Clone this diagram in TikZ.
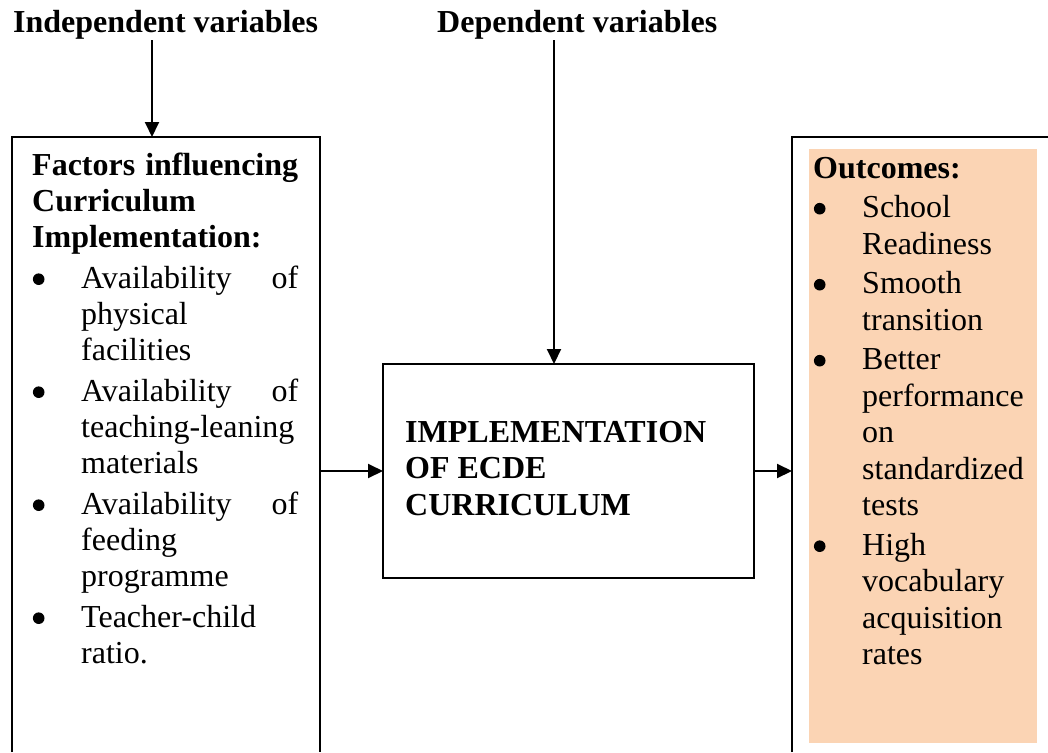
\documentclass[tikz,border=0pt]{standalone}
\usepackage{fontspec}
\setmainfont{Liberation Serif}
\usetikzlibrary{arrows.meta}
\definecolor{peach}{HTML}{FBD4B4}
\newcommand\bdot{\tikz[baseline=0pt]{\fill[black] (6pt,9pt) circle[radius=5.8pt];}}
\newcommand\bitem[1]{\par\hangindent=49pt\hangafter=1\noindent\makebox[49pt][l]{\hspace{0.7pt}\bdot}#1}
\newcommand\boxfont[1]{\fontsize{32}{#1}\selectfont\spaceskip=0.25em plus 2em minus 0.05em\tolerance=10000\hyphenpenalty=10000\exhyphenpenalty=10000\parindent=0pt}
\begin{document}
\begin{tikzpicture}[x=1pt,y=-1pt,
  shapeonly/.style={inner sep=0pt, outer sep=0pt, anchor=north west},
  arr/.style={line width=2pt, -{Triangle[length=15pt,width=14pt]}},
  head/.style={anchor=base west, inner sep=0pt, font=\fontsize{32}{36}\selectfont\bfseries},
  tbox/.style={anchor=north west, inner sep=0pt, align=justify}]
\useasboundingbox (0,0) rectangle (1048,752);
% headings
\node[head] (ind) at (13,33) {Independent variables};
\node[head] (dep) at (437,33) {Dependent variables};
% boxes
\node[shapeonly, minimum width=308pt, minimum height=615pt] (lbox) at (12,137) {};
\draw[line width=1.5pt] (lbox.south west) -- (lbox.north west) -- (lbox.north east) -- (lbox.south east);
\node[shapeonly, draw, line width=1.5pt, minimum width=371pt, minimum height=214pt] (mbox) at (383,364) {};
\node[shapeonly, minimum width=256pt, minimum height=615pt] (rbox) at (792,137) {};
\fill[peach] (809,149) rectangle (1037,743);
\draw[line width=2pt] (rbox.south west) -- (rbox.north west) -- (rbox.north east);
% texts
\node[tbox, text width=266pt] (ltext) at (32,149) {\boxfont{36}\setlength{\parskip}{5pt}%
\rule{0pt}{26pt}\textbf{Factors influencing Curriculum Implementation:}%
\bitem{Availability of physical facilities}%
\bitem{Availability of teaching-leaning materials}%
\bitem{Availability of feeding programme}%
\bitem{Teacher-child ratio.}\par};
\node[tbox, text width=224pt] (rtext) at (813,152) {\boxfont{36.5}\setlength{\parskip}{3pt}%
\rule{0pt}{26pt}\textbf{Outcomes:}%
\bitem{School Readiness}%
\bitem{Smooth transition}%
\bitem{Better performance on standardized tests}%
\bitem{High vocabulary acquisition rates}\par};
\node[anchor=north west, inner sep=0pt, align=left, font=\fontsize{32}{36.5}\selectfont\bfseries] (mtext) at (405,416) {\rule{0pt}{26pt}IMPLEMENTATION\\OF ECDE\\CURRICULUM};
% connectors
\coordinate (c1) at (152,137);
\coordinate (c2) at (554,364);
\draw[arr] (ind.south -| c1) -- (c1);
\draw[arr] (dep.south -| c2) -- (c2);
\draw[arr] (mbox.west -| lbox.east) -- (mbox.west);
\draw[arr] (mbox.east) -- (mbox.east -| rbox.west);
\end{tikzpicture}
\end{document}
